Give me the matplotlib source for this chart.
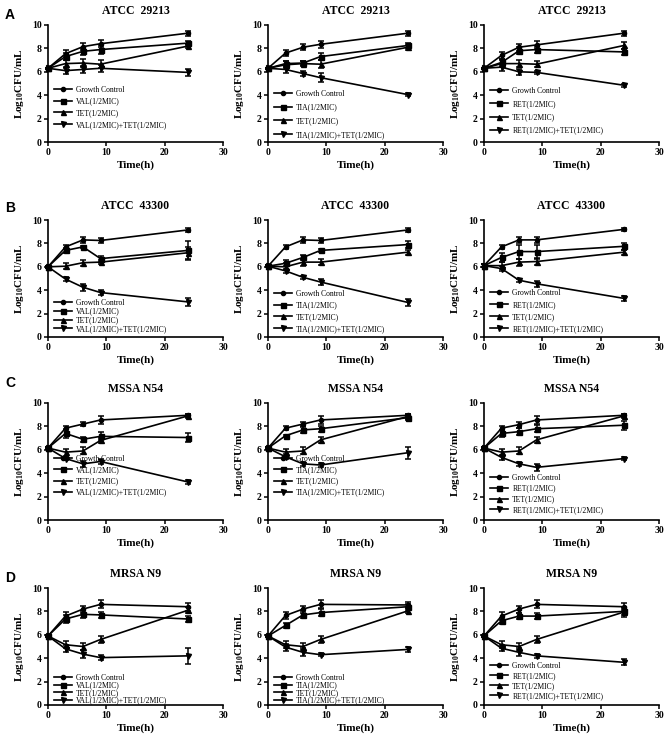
import matplotlib
matplotlib.use("Agg")
import matplotlib.pyplot as plt
from matplotlib.lines import Line2D

plt.rcParams['font.family'] = ['Liberation Serif', 'DejaVu Serif']
plt.rcParams['mathtext.fontset'] = 'custom'
plt.rcParams['mathtext.rm'] = 'Liberation Serif:bold'
plt.rcParams['mathtext.bf'] = 'Liberation Serif:bold'

times = [0, 3, 6, 9, 24]
strains = ['ATCC  29213', 'ATCC  43300', 'MSSA N54', 'MRSA N9']
drugs = ['VAL', 'TIA', 'RET']
row_letters = ['A', 'B', 'C', 'D']

# row A: ATCC 29213 (columns: VAL, TIA, RET)
gc_a = [[6.3, 7.55, 8.15, 8.4, 9.3], [6.3, 7.6, 8.1, 8.35, 9.3], [6.3, 7.4, 8.1, 8.3, 9.3]]
drug_a = [[6.3, 7.3, 7.75, 7.9, 8.45], [6.3, 6.7, 6.75, 7.3, 8.25], [6.3, 6.8, 7.8, 7.9, 7.7]]
tet_a = [[6.3, 6.7, 6.75, 6.65, 8.2], [6.3, 6.6, 6.7, 6.65, 8.1], [6.3, 6.7, 6.7, 6.65, 8.25]]
combo_a = [[6.3, 6.1, 6.2, 6.3, 5.95], [6.3, 6.2, 5.85, 5.5, 4.05], [6.3, 6.4, 6.0, 5.95, 4.85]]
gc_a_err = [[0.05, 0.3, 0.3, 0.3, 0.2], [0.05, 0.25, 0.25, 0.3, 0.2], [0.05, 0.3, 0.3, 0.3, 0.2]]
drug_a_err = [[0.05, 0.3, 0.3, 0.35, 0.2], [0.05, 0.25, 0.2, 0.3, 0.2], [0.05, 0.3, 0.3, 0.3, 0.25]]
tet_a_err = [[0.05, 0.35, 0.35, 0.35, 0.2], [0.05, 0.3, 0.2, 0.35, 0.2], [0.05, 0.3, 0.3, 0.25, 0.3]]
combo_a_err = [[0.05, 0.3, 0.3, 0.3, 0.3], [0.05, 0.3, 0.2, 0.4, 0.15], [0.05, 0.3, 0.25, 0.1, 0.15]]

# row B: ATCC 43300
gc_b = [[6.0, 7.7, 8.3, 8.25, 9.15], [6.05, 7.7, 8.3, 8.25, 9.15], [6.1, 7.7, 8.3, 8.3, 9.2]]
drug_b = [[6.0, 7.4, 7.7, 6.7, 7.4], [6.05, 6.3, 6.8, 7.4, 7.9], [6.1, 6.8, 7.3, 7.3, 7.75]]
tet_b = [[6.0, 6.05, 6.35, 6.4, 7.2], [6.05, 6.0, 6.4, 6.4, 7.25], [6.1, 6.1, 6.4, 6.45, 7.25]]
combo_b = [[6.0, 4.95, 4.25, 3.8, 3.0], [6.05, 5.65, 5.1, 4.7, 2.95], [6.1, 5.85, 4.85, 4.55, 3.3]]
gc_b_err = [[0.1, 0.2, 0.25, 0.2, 0.15], [0.1, 0.2, 0.25, 0.2, 0.15], [0.1, 0.2, 0.25, 0.25, 0.15]]
drug_b_err = [[0.1, 0.2, 0.1, 0.25, 0.8], [0.1, 0.25, 0.25, 0.15, 0.3], [0.1, 0.4, 0.6, 0.6, 0.3]]
tet_b_err = [[0.1, 0.25, 0.25, 0.2, 0.5], [0.1, 0.3, 0.3, 0.25, 0.2], [0.1, 0.3, 0.3, 0.3, 0.2]]
combo_b_err = [[0.1, 0.15, 0.3, 0.25, 0.35], [0.1, 0.15, 0.1, 0.25, 0.3], [0.1, 0.2, 0.15, 0.25, 0.2]]

# row C: MSSA N54
gc_c = [[6.15, 7.85, 8.2, 8.55, 8.95], [6.15, 7.85, 8.2, 8.55, 8.95], [6.15, 7.85, 8.15, 8.55, 8.95]]
drug_c = [[6.15, 7.4, 6.9, 7.15, 7.05], [6.15, 7.2, 7.7, 7.8, 8.75], [6.15, 7.4, 7.55, 7.8, 8.1]]
tet_c = [[6.15, 5.8, 5.9, 6.8, 8.9], [6.15, 5.8, 5.9, 6.85, 8.85], [6.15, 5.8, 5.9, 6.85, 8.9]]
combo_c = [[6.15, 5.25, 4.8, 5.0, 3.25], [6.15, 5.4, 4.8, 4.7, 5.75], [6.15, 5.35, 4.8, 4.5, 5.25]]
gc_c_err = [[0.05, 0.15, 0.15, 0.35, 0.15], [0.05, 0.15, 0.15, 0.35, 0.15], [0.05, 0.15, 0.25, 0.35, 0.15]]
drug_c_err = [[0.05, 0.35, 0.2, 0.35, 0.35], [0.05, 0.1, 0.25, 0.25, 0.2], [0.05, 0.3, 0.3, 0.3, 0.4]]
tet_c_err = [[0.05, 0.3, 0.3, 0.25, 0.2], [0.05, 0.3, 0.3, 0.25, 0.2], [0.05, 0.3, 0.3, 0.25, 0.2]]
combo_c_err = [[0.05, 0.15, 0.25, 0.2, 0.15], [0.05, 0.2, 0.2, 0.2, 0.5], [0.05, 0.2, 0.15, 0.3, 0.15]]

# row D: MRSA N9
gc_d = [[5.9, 7.6, 8.2, 8.6, 8.4], [5.9, 7.65, 8.2, 8.6, 8.55], [5.9, 7.6, 8.2, 8.6, 8.4]]
drug_d = [[5.9, 7.35, 7.75, 7.7, 7.35], [5.9, 6.8, 7.7, 7.9, 8.4], [5.9, 7.2, 7.6, 7.6, 8.0]]
tet_d = [[5.9, 5.15, 5.0, 5.6, 8.1], [5.9, 5.15, 5.0, 5.6, 8.05], [5.9, 5.15, 5.0, 5.6, 7.95]]
combo_d = [[5.9, 4.8, 4.35, 4.05, 4.2], [5.9, 4.95, 4.5, 4.3, 4.75], [5.9, 4.85, 4.5, 4.2, 3.65]]
gc_d_err = [[0.05, 0.35, 0.3, 0.35, 0.35], [0.05, 0.3, 0.3, 0.35, 0.25], [0.05, 0.35, 0.3, 0.35, 0.3]]
drug_d_err = [[0.05, 0.3, 0.3, 0.25, 0.25], [0.05, 0.2, 0.3, 0.3, 0.25], [0.05, 0.25, 0.25, 0.25, 0.3]]
tet_d_err = [[0.05, 0.3, 0.3, 0.3, 0.25], [0.05, 0.3, 0.3, 0.3, 0.2], [0.05, 0.3, 0.3, 0.3, 0.4]]
combo_d_err = [[0.05, 0.3, 0.35, 0.2, 0.7], [0.05, 0.3, 0.35, 0.15, 0.2], [0.05, 0.25, 0.35, 0.15, 0.25]]

rows = [
    (gc_a, drug_a, tet_a, combo_a, gc_a_err, drug_a_err, tet_a_err, combo_a_err),
    (gc_b, drug_b, tet_b, combo_b, gc_b_err, drug_b_err, tet_b_err, combo_b_err),
    (gc_c, drug_c, tet_c, combo_c, gc_c_err, drug_c_err, tet_c_err, combo_c_err),
    (gc_d, drug_d, tet_d, combo_d, gc_d_err, drug_d_err, tet_d_err, combo_d_err),
]

# legend placement per panel: (top entry height above x axis in px, row pitch in px)
leg_place = [
    [(52, 11.7), (48, 13.7), (51, 13.3)],
    [(34, 8.8), (43, 11.7), (44, 12.0)],
    [(61, 11.3), (61, 11.3), (42, 10.8)],
    [(27, 7.5), (27, 7.5), (39, 10.0)],
]

W, H = 666, 735
fig = plt.figure(figsize=(W / 100, H / 100), dpi=100)

col_left = [48, 268, 484]
ax_w = 175
row_top = [25, 220, 403, 588]
ax_h = 117
letter_y = [15, 208, 383, 578]

markers = ['o', 's', '^', 'v']
msizes = [3.0, 3.6, 3.6, 3.6]
leg_fs = 5.5
fs_px = leg_fs * 100 / 72

for r in range(4):
    gc, dr, tet, combo, gce, dre, tete, comboe = rows[r]
    for c in range(3):
        ax = fig.add_axes([col_left[c] / W, 1 - (row_top[r] + ax_h) / H, ax_w / W, ax_h / H])
        labels = ['Growth Control', drugs[c] + '(1/2MIC)', 'TET(1/2MIC)',
                  drugs[c] + '(1/2MIC)+TET(1/2MIC)']
        series = [(gc[c], gce[c]), (dr[c], dre[c]), (tet[c], tete[c]), (combo[c], comboe[c])]
        handles = []
        for k, (vals, errs) in enumerate(series):
            ax.errorbar(times, vals, yerr=errs, color='black', lw=1.2, marker=markers[k],
                        ms=msizes[k], capsize=2, elinewidth=1.1, capthick=1.1, clip_on=False)
            handles.append(Line2D([], [], color='black', lw=1.2, marker=markers[k],
                                  ms=msizes[k]))
        ax.set_xlim(0, 30)
        ax.set_ylim(0, 10)
        ax.set_xticks([0, 10, 20, 30])
        ax.set_yticks([0, 2, 4, 6, 8, 10])
        for s in ['top', 'right']:
            ax.spines[s].set_visible(False)
        for s in ['left', 'bottom']:
            ax.spines[s].set_linewidth(1.2)
        ax.tick_params(direction='out', length=3, width=1.1, labelsize=7, pad=1.5)
        for lab in ax.get_xticklabels() + ax.get_yticklabels():
            lab.set_fontweight('bold')
        ax.set_title(strains[r], fontsize=8.5, fontweight='bold', pad=8)
        ax.set_xlabel('Time(h)', fontsize=8, fontweight='bold', labelpad=2)
        ax.set_ylabel(r'Log$_{\mathbf{10}}$CFU/mL', fontsize=8, fontweight='bold', labelpad=4)

        top_px, pitch = leg_place[r][c]
        ls = pitch / fs_px - 1.05
        ax.legend(handles, labels, loc='upper left',
                  bbox_to_anchor=(0.035, (top_px + 0.55 * fs_px) / ax_h), frameon=False,
                  fontsize=leg_fs, handlelength=2.3, handletextpad=0.6, labelspacing=ls,
                  borderpad=0, borderaxespad=0)
    fig.text(5 / W, 1 - letter_y[r] / H, row_letters[r], fontsize=10, fontweight='bold',
             family='Liberation Sans', va='center', ha='left')

fig.savefig('out.png', dpi=100)
